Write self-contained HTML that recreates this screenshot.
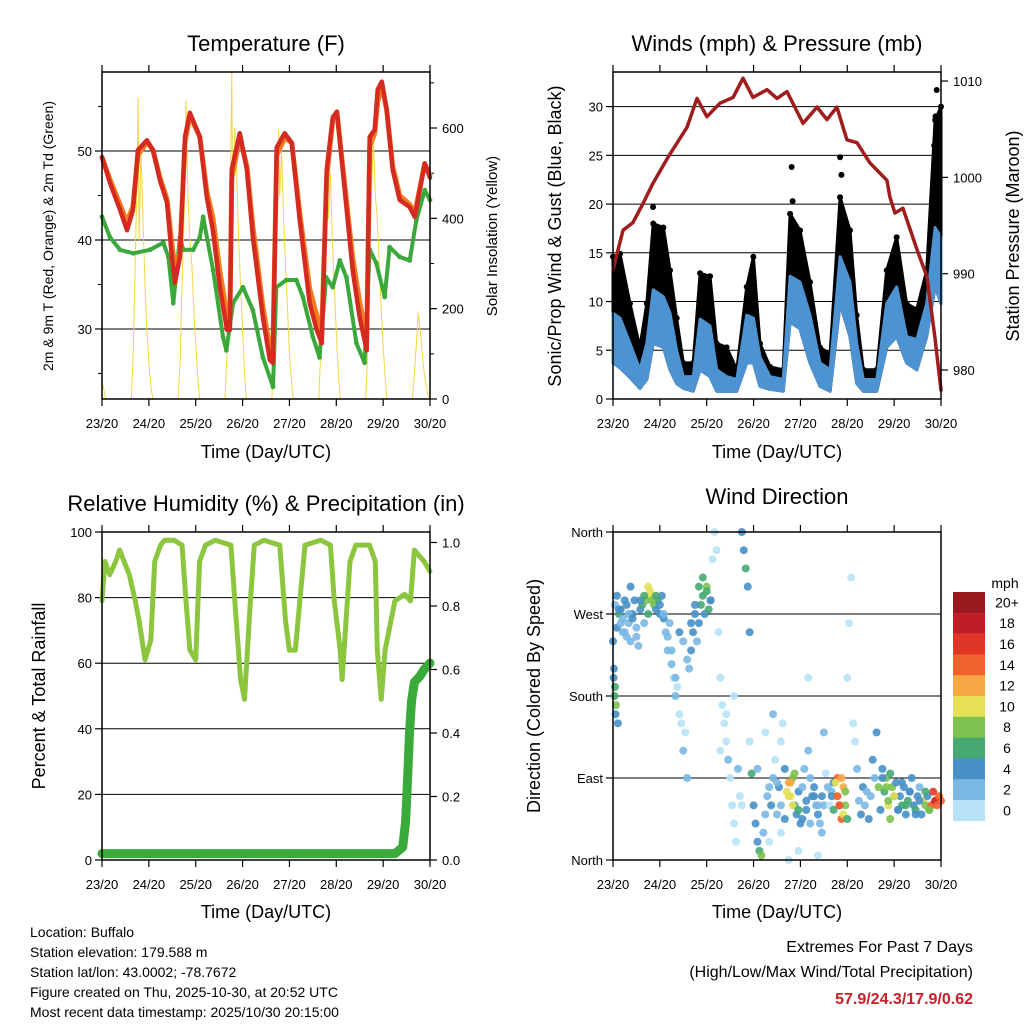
<!DOCTYPE html>
<html><head><meta charset="utf-8">
<style>
html,body{margin:0;padding:0;background:#fff;}
svg{display:block;font-family:"Liberation Sans",Arial,sans-serif;}
</style></head>
<body>
<svg id="root" width="1024" height="1024" viewBox="0 0 1024 1024" xmlns="http://www.w3.org/2000/svg">
<rect x="0" y="0" width="1024" height="1024" fill="#fff"/>
<text x="266" y="51" font-size="22" text-anchor="middle">Temperature (F)</text>
<text x="777" y="51" font-size="22" text-anchor="middle">Winds (mph) &amp; Pressure (mb)</text>
<text x="266" y="511" font-size="22" text-anchor="middle">Relative Humidity (%) &amp; Precipitation (in)</text>
<text x="777" y="504" font-size="22" text-anchor="middle">Wind Direction</text>
<text x="266" y="458" font-size="18" text-anchor="middle">Time (Day/UTC)</text>
<text x="777" y="458" font-size="18" text-anchor="middle">Time (Day/UTC)</text>
<text x="266" y="918" font-size="18" text-anchor="middle">Time (Day/UTC)</text>
<text x="777" y="918" font-size="18" text-anchor="middle">Time (Day/UTC)</text>
<text transform="translate(53,236) rotate(-90)" font-size="14" text-anchor="middle">2m &amp; 9m T (Red, Orange) &amp; 2m Td (Green)</text>
<text transform="translate(497,236) rotate(-90)" font-size="15" text-anchor="middle">Solar Insolation (Yellow)</text>
<text transform="translate(561,236) rotate(-90)" font-size="18" text-anchor="middle">Sonic/Prop Wind &amp; Gust (Blue, Black)</text>
<text transform="translate(1019,236) rotate(-90)" font-size="18" text-anchor="middle">Station Pressure (Maroon)</text>
<text transform="translate(45,696) rotate(-90)" font-size="18" text-anchor="middle">Percent &amp; Total Rainfall</text>
<text transform="translate(540,696) rotate(-90)" font-size="18" text-anchor="middle">Direction (Colored By Speed)</text>
<g font-size="14">
<text x="30" y="937">Location: Buffalo</text>
<text x="30" y="957">Station elevation: 179.588 m</text>
<text x="30" y="977">Station lat/lon: 43.0002; -78.7672</text>
<text x="30" y="997">Figure created on Thu, 2025-10-30, at 20:52 UTC</text>
<text x="30" y="1017">Most recent data timestamp: 2025/10/30 20:15:00</text>
</g>
<text x="973" y="952" font-size="16" text-anchor="end">Extremes For Past 7 Days</text>
<text x="973" y="977" font-size="16" text-anchor="end">(High/Low/Max Wind/Total Precipitation)</text>
<text x="973" y="1004" font-size="16" font-weight="bold" fill="#c8202a" text-anchor="end">57.9/24.3/17.9/0.62</text>
</svg>
<script>
// ---- data ----
const dayLabels = ["23/20","24/20","25/20","26/20","27/20","28/20","29/20","30/20"];
const tempHours = [0,4.1,9.2,12.8,15.9,18.4,23,26.1,29.7,33.3,35.8,37.4,39.9,42.5,45,50.1,53.7,56.8,60.4,64,65.5,66.5,70.6,74.2,77.3,82.4,86,87.5,89.5,93.6,97.2,101.3,106.4,110,112.6,115.1,118.2,120.3,123.3,128.4,132,135.6,137.1,139.7,141.2,143.3,145.8,148.9,152.5,157.6,160.2,165.3,168];
const temp2m = [49.3,46.4,43.4,41.1,43.4,50.1,51.2,50.1,46.7,44.2,38.1,35.2,38.1,51.6,54.3,51.6,44.8,41.1,34.7,29.9,29.9,47.9,52,47.9,40.3,31.3,26.5,26.2,50.4,52,50.9,42.2,32.9,29.9,28.4,47.9,53.8,54.4,47.9,36.6,31.3,27.6,51.6,52.4,56.9,57.8,54.6,47.9,44.5,43.7,42.6,48.6,47];
const temp9m = [49.3,46.8,44,42,43.8,49.5,51,50.1,47,44.6,39.5,37,38.5,51,54,51.6,45.5,42.5,36.5,31.5,31.5,47,51.5,48.3,41.5,32.5,27.8,27.5,49.5,51.5,50.9,43,34.5,31.5,30,47,53.5,54.4,48.3,38,33,29,50.5,52,55.5,57.5,54.6,48.3,45,44,43,48.6,47.3];
const dewHours = [0,4.1,9.2,16,24.6,31.4,34,36.5,39.9,41.6,46.7,50.1,51.8,56.9,62,63.7,67.1,72.2,77.3,82.4,87.6,89.3,94.4,99.5,102.9,108,111.4,114.8,118.2,121.8,125.2,130.3,134.5,137.1,140.5,144.8,147.3,152.5,157.6,161,165.3,168];
const dewpoint = [42.6,40.3,38.9,38.5,38.9,39.7,38.1,32.9,40.3,38.9,38.9,40.3,42.6,36.6,29.1,27.6,32.9,34.7,32.1,26.8,23.5,34.7,35.5,35.5,33.6,29.1,26.8,35.8,34.7,37.7,35.8,28.4,26.2,38.9,37.4,33.6,39.2,38.1,37.7,42.2,45.6,44.5];
const solarHours = [0,1,2,15,16,17,18,18.5,19,20,21,22,23,24,25,26,39,40,41,42,43,44,45,46,47,48,49,50,63,64,65,66,66.5,67,68,69,70,71,72,73,74,87,88,89,90,90.5,91,92,93,94,95,96,97,98,111,112,113,114,115,116,117,118,119,120,121,122,135,136,137,138,139,140,141,142,143,144,145,146,159,160,161,162,163,164,165,166,167,168];
const solar = [40,20,0,0,100,300,500,667,350,550,400,250,150,80,30,0,0,80,250,400,662,450,350,300,200,120,50,0,0,100,300,550,724,400,600,500,350,250,150,60,0,0,120,350,500,595,450,550,400,300,200,100,40,0,0,100,300,450,550,400,500,350,250,150,60,0,0,90,280,450,573,450,400,300,200,120,50,0,0,60,120,190,150,100,60,30,10,0];
const windHours = [0,3.6,8.7,13.8,17.3,20.6,25.8,29.2,32.6,36,41.1,44.6,49.7,53.1,58.2,63.4,68.5,71.9,75.3,80.4,87.2,90.7,95.8,100.9,106,111.2,116.3,121.4,124.8,128.2,135.1,140.2,145.3,150.4,155.6,160.7,165,168];
const gustHi = [14.6,14.9,9.8,5.3,9.8,18,17.6,13.2,8.3,3.7,3.7,12.9,12.6,5.7,5.3,3.0,11.5,14.6,5.7,3.3,3.0,19,17.3,12,5.3,4.6,20.7,17.3,8.6,3.0,3,13.2,16.6,9.8,9.2,13.2,28.6,30];
const windHi = [8.8,8.3,5.7,3.0,5.7,11.2,10.5,8.8,5.0,2.3,2.3,8.2,7.5,3,2.3,2.0,8.6,8.3,4.3,2.3,2.0,12.6,12,8.6,3.7,3.0,14.6,12,5.7,2.0,2.0,9.8,11.5,6.4,6.1,9.8,17.6,16.6];
const windLo = [3.7,3.2,2.2,1.1,2,5.7,5.3,3,1.6,1.1,0.8,3,2.3,0.8,0.8,0.8,3.7,3.7,1.3,1.0,0.8,7.9,7.2,3.7,1.3,0.8,9.8,6.4,1.6,0.8,0.8,5.3,6.4,3.7,3,6.4,11.5,9.8];
const spikeHours = [20.5,91.5,92,116.3,117,165.8,165.2,164.5];
const spikeGust = [19.7,23.8,20.3,24.8,23,31.7,29,26];
const presHours = [0,5.1,10.2,15.4,20.5,28.2,37.9,43,48.1,54.8,61.5,66.6,71.7,78.9,84,89.1,97.3,104.5,109.6,114.7,119.8,125,131.6,140.3,141.8,144.4,148.5,155.7,160.8,164.9,168];
const pressure = [990.4,994.5,995.3,997.3,999.4,1002.1,1005.2,1008.2,1006.3,1007.7,1008.3,1010.3,1008.3,1009.1,1008.2,1008.9,1005.6,1007.3,1006,1007.3,1003.9,1003.6,1001.5,999.7,998,996.3,996.8,992.5,989.7,983.4,977.9];
const rhHours = [0,1.5,4,7,9,12,14,17,19,22,25,27,30,32,37,41,43,45,48,50,53,58,66,68,71,73,76,78,83,91,94,96,99,104,112,117,119,122,123,127,130,137,140,141,143,145,150,155,158,160,165,168];
const rh = [79,91,87,91,94.5,90,87,79,73,61,67,91,96,97.5,97.5,96,79,64,61,91,96,97.5,96,79,55,49,79,96,97.5,96,73,64,64,96,97.5,96,79,64,55,91,96,96,91,64,49,64,79,81,79,94.5,91,88];
const precipHours = [0,50,100,150,154,155.5,156.5,157.5,158.5,160,163,165,168];
const precip = [0.02,0.02,0.02,0.02,0.04,0.12,0.25,0.4,0.5,0.56,0.58,0.6,0.62];
const dirHours = [
  0,0.5,1,1.5,2,2.5,3,4,5,6,
  7,8,9,10,11,12,13,14,15,16,
  17,18,19,20,21,22,23,24,25,26,
  27,28,29,30,31,32,33,34,35,36,
  37,38,39,40,41,42,43,44,45,46,
  47,48,49,50,51,52,53,54,55,56,
  57,58,59,60,61,62,63,64,65,66,
  67,68,69,70,71,72,73,74,75,76,
  77,78,79,80,81,82,83,84,85,86,
  87,88,89,90,91,92,93,94,95,96,
  97,98,99,100,101,102,103,104,105,106,
  107,108,109,110,111,112,113,114,115,116,
  117,118,119,120,121,122,123,124,125,126,
  127,128,129,130,131,132,133,134,135,136,
  137,138,139,140,141,142,143,144,145,146,
  147,148,149,150,151,152,153,154,155,156,
  157,158,159,160,161,162,163,164,165,166,167,168,
  1,2,3,4,5,6,7,8,9,10,
  12,14,16,18,20,22,24,26,28,30,
  32,34,36,38,40,42,44,46,48,50,
  0.3,0.8,1.3,
  84,86,88,90,91,92,93,95,97,99,
  101,103,105,107,112,113,114,115,116,117,
  118,119,120,
  138,140,141,142,144,146,148,150,152,155,
  157,160,162,
  55,58,62,66,70,74,78,80,82,86,
  90,95,100,105,108];
const dirDeg = [
  240,210,190,170,255,150,270,275,265,250,
  280,260,240,270,285,255,235,275,280,260,
  285,270,295,290,280,275,285,270,290,265,
  250,230,260,215,200,180,190,160,150,120,
  140,90,210,230,250,270,240,260,280,290,
  270,300,275,285,330,360,340,250,200,170,
  150,130,110,90,60,40,20,100,70,360,
  340,320,300,250,95,60,40,20,10,5,
  30,50,70,80,60,90,110,50,80,130,
  150,100,75,85,70,90,60,50,75,40,
  80,100,55,120,90,70,80,60,50,40,
  70,60,95,80,60,75,85,70,90,60,
  45,80,60,200,260,310,150,130,100,65,
  50,80,60,75,45,70,110,90,140,80,
  55,100,75,90,60,45,80,70,85,55,
  70,60,80,50,65,75,90,60,55,70,
  80,50,65,60,70,55,60,75,65,60,70,65,
  280,290,275,260,250,285,245,270,300,265,
  245,285,290,300,285,290,280,270,245,230,
  200,250,240,220,260,280,300,310,295,285,
  200,180,160,
  85,60,45,70,85,60,95,55,45,65,
  40,70,60,30,70,55,85,70,60,90,
  50,75,45,
  90,80,65,95,70,55,85,60,75,50,
  65,75,55,
  120,160,180,60,130,100,140,20,160,30,
  0,10,200,5,140];
const dirSpeed = [
  4,4,6,8,4,4,6,4,2,2,
  4,2,2,4,4,2,2,4,6,2,
  8,6,10,10,8,4,6,4,4,4,
  2,2,2,2,0,2,0,0,0,2,
  0,2,2,4,4,4,2,4,6,6,
  4,8,6,4,0,0,0,0,0,0,
  0,0,2,0,0,0,0,2,0,4,
  4,6,4,4,6,4,4,4,6,8,
  2,2,2,2,4,2,0,2,4,0,
  0,4,10,12,10,8,6,4,4,4,
  2,2,4,2,2,4,4,2,4,2,
  4,2,0,2,0,2,4,10,14,16,
  14,12,8,0,0,0,0,0,2,2,
  4,4,2,2,4,2,4,2,4,8,
  4,4,6,8,10,8,8,6,4,4,
  4,6,4,4,6,4,4,4,6,4,
  2,4,10,8,4,6,14,16,18,14,14,14,
  2,4,4,2,2,4,2,2,4,4,
  2,4,6,10,8,6,4,2,2,2,
  2,4,2,2,4,4,6,6,6,4,
  4,6,4,
  2,2,4,10,12,10,8,6,4,4,
  2,4,2,2,4,6,10,14,14,12,
  10,8,6,
  4,8,8,6,10,4,4,6,4,4,
  4,6,8,
  0,0,0,0,0,2,0,0,2,0,
  0,0,0,0,2];
const speedBins = ["0","2","4","6","8","10","12","14","16","18","20+"];
const speedColors = ["#b8e3f6","#7ab8e3","#4890c8","#46a872","#7dc24f","#e6e058","#f7a844","#f0622c","#df3628","#c11d27","#981a1e"];
const tempTicks = [30,40,50];
const tempMinor = [25,35,45,55];
const solarTicks = [0,200,400,600];
const solarMinor = [100,300,500,700];
const windTicks = [0,5,10,15,20,25,30];
const presTicks = [980,990,1000,1010];
const rhTicks = [0,20,40,60,80,100];
const precipTicks = ["0.0","0.2","0.4","0.6","0.8","1.0"];
const dirTicks = ["North","East","South","West","North"];

// ---- helpers ----
const NS = "http://www.w3.org/2000/svg";
const root = document.getElementById("root");
function mk(tag, attrs, parent){ const e=document.createElementNS(NS,tag); for(const k in attrs) e.setAttribute(k,attrs[k]); (parent||root).appendChild(e); return e; }
function lin(d0,d1,r0,r1){ return v => r0 + (v-d0)/(d1-d0)*(r1-r0); }

function panel(name,x0,x1,y0,y1){
  const g = mk("g",{});
  
  
  return {g,x0,x1,y0,y1,xs:lin(0,168,x0,x1)};
}
function frame(p){
  const r = mk("rect",{x:p.x0,y:p.y0,width:p.x1-p.x0,height:p.y1-p.y0,fill:"none",stroke:"#000","stroke-width":1.5},p.g);
  
  
  dayLabels.forEach((lab,i)=>{
    const x = p.xs(i*24);
    const t = mk("line",{x1:x,x2:x,y1:p.y1,y2:p.y1+7,stroke:"#000","stroke-width":1.2},p.g);
    
    
    const t2 = mk("line",{x1:x,x2:x,y1:p.y0,y2:p.y0-7,stroke:"#000","stroke-width":1.2},p.g);
    
    
    const tx = mk("text",{x:x,y:p.y1+29,"font-size":13,"text-anchor":"middle"},p.g);
    tx.textContent = lab;
    
    
  });
}
function leftAxis(p,ys,ticks,labels,grid){
  ticks.forEach((v,i)=>{
    const y = ys(v);
    if(grid && y>p.y0+1 && y<p.y1-1){
      const gl = mk("line",{x1:p.x0,x2:p.x1,y1:y,y2:y,stroke:"#000","stroke-width":1},p.g);
      
      
    }
    const t = mk("line",{x1:p.x0-7,x2:p.x0,y1:y,y2:y,stroke:"#000","stroke-width":1.2},p.g);
    
    
    const tx = mk("text",{x:p.x0-10,y:y+5,"font-size":13,"text-anchor":"end"},p.g);
    tx.textContent = labels ? labels[i] : v;
    
    
  });
}
function minorTicks(p,ys,ticks,side){
  ticks.forEach(v=>{
    const y = ys(v);
    if(y<p.y0||y>p.y1) return;
    const x = side==="left"?p.x0:p.x1;
    const d = side==="left"?-4:4;
    const t = mk("line",{x1:x,x2:x+d,y1:y,y2:y,stroke:"#000","stroke-width":1},p.g);
    
    
  });
}
function rightAxis(p,ys,ticks,labels){
  ticks.forEach((v,i)=>{
    const y = ys(v);
    const t = mk("line",{x1:p.x1,x2:p.x1+7,y1:y,y2:y,stroke:"#000","stroke-width":1.2},p.g);
    
    
    const tx = mk("text",{x:p.x1+12,y:y+5,"font-size":13,"text-anchor":"start"},p.g);
    tx.textContent = labels ? labels[i] : v;
    
    
  });
}
function path(p,hours,vals,ys,color,width,name){
  const pts = hours.map((h,i)=>p.xs(h).toFixed(1)+","+ys(vals[i]).toFixed(1)).join(" ");
  const e = mk("polyline",{points:pts,fill:"none",stroke:color,"stroke-width":width,"stroke-linejoin":"round","stroke-linecap":"round"},p.g);
  
  
  return e;
}
function band(p,hours,lo,hi,ys,color,name){
  const top = hours.map((h,i)=>p.xs(h).toFixed(1)+","+ys(hi[i]).toFixed(1));
  const bot = hours.map((h,i)=>p.xs(h).toFixed(1)+","+ys(lo[i]).toFixed(1)).reverse();
  const e = mk("polygon",{points:top.concat(bot).join(" "),fill:color,stroke:color,"stroke-width":3,"stroke-linejoin":"round"},p.g);
  
  
}
function dots(p,hours,vals,ys,color,r,name){
  const g = mk("g",{fill:color},p.g);
  
  
  hours.forEach((h,i)=>{ mk("circle",{cx:p.xs(h),cy:ys(vals[i]),r:r},g); });
}

// ---- panel 1: temperature ----
const p1 = panel("temperature-panel",102,430,72,399);
const tY = lin(22.13,58.88,399,72);
const sY = lin(0,724,399,72);
leftAxis(p1,tY,tempTicks,null,true);
minorTicks(p1,tY,tempMinor,"left");
rightAxis(p1,sY,solarTicks,null);
minorTicks(p1,sY,solarMinor,"right");
path(p1,solarHours,solar,sY,"#f5d547",1,"solar-line");
path(p1,dewHours,dewpoint,tY,"#3aa83a",4,"dewpoint-line");
dots(p1,dewHours,dewpoint,tY,"#3aa83a",2.4,"dewpoint-points");
path(p1,tempHours,temp9m,tY,"#f47c20",5,"temp-9m-line");
path(p1,tempHours,temp2m,tY,"#d42a20",4.5,"temp-2m-line");
frame(p1);

// ---- panel 2: winds & pressure ----
const p2 = panel("winds-panel",613,941,72,399);
const wY = lin(0,33.55,399,72);
const pY = lin(976.99,1010.94,399,72);
leftAxis(p2,wY,windTicks,null,true);
rightAxis(p2,pY,presTicks,null);
band(p2,windHours,windLo,gustHi,wY,"#000","gust-band");
dots(p2,windHours,gustHi,wY,"#000",3,"gust-points");
dots(p2,spikeHours,spikeGust,wY,"#000",3,"gust-spike-points");
band(p2,windHours,windLo,windHi,wY,"#4d93d2","wind-speed-band");
path(p2,presHours,pressure,pY,"#a01d1d",3.5,"pressure-line");
frame(p2);

// ---- panel 3: RH & precip ----
const p3 = panel("humidity-panel",102,430,532,860);
const rY = lin(0,100,860,532);
const prY = lin(0,1,860,542.5);
leftAxis(p3,rY,rhTicks,null,true);
rightAxis(p3,prY,precipTicks.map(Number),precipTicks);
path(p3,rhHours,rh,rY,"#8cc63f",5,"rh-line");
path(p3,precipHours,precip,prY,"#3aaa3a",9,"precip-line");
frame(p3);

// ---- panel 4: wind direction ----
const p4 = panel("wind-direction-panel",613,941,532,860);
const dY = lin(0,360,860,532);
leftAxis(p4,dY,[0,90,180,270,360],dirTicks,true);
dirHours.forEach((h,i)=>{
  const bin = Math.min(10,Math.max(0,Math.round(dirSpeed[i]/2)));
  const c = mk("circle",{cx:p4.xs(h),cy:dY(dirDeg[i]),r:4,fill:speedColors[bin],"fill-opacity":0.9},p4.g);
  
  
});
frame(p4);

// colorbar
const cb = mk("g",{});


const cbTop = 592, cbH = 20.8;
const unit = mk("text",{x:1005,y:588,"font-size":14,"text-anchor":"middle"},cb);
unit.textContent = "mph";


for(let i=0;i<speedBins.length;i++){
  const k = speedBins.length-1-i;
  const y = cbTop + i*cbH;
  const r = mk("rect",{x:953,y:y,width:32,height:cbH+0.3,fill:speedColors[k]},cb);
  
  
  const t = mk("text",{x:1007,y:y+cbH/2+5,"font-size":14,"text-anchor":"middle"},cb);
  t.textContent = speedBins[k];
  
  
}
</script>
</body></html>
